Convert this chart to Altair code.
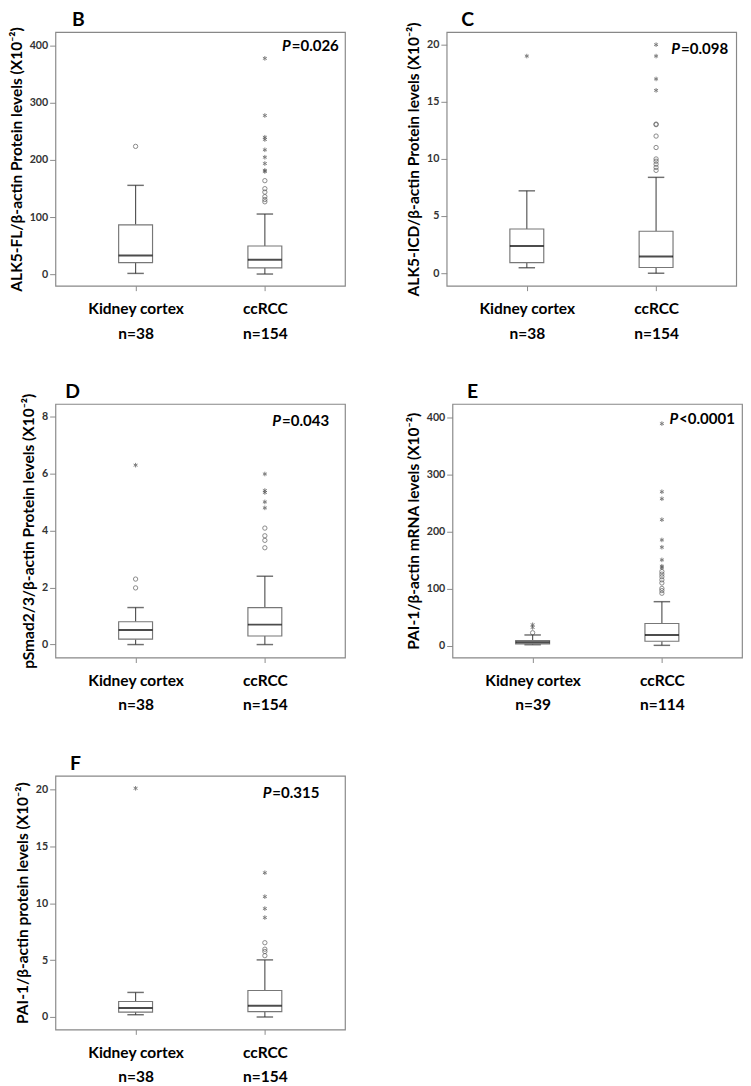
import altair as alt
import pandas as pd

groups = ["Kidney cortex", "ccRCC"]
FONT = "Lato"

# ---- Panel B : ALK5-FL ----
b_n = [38, 154]
b_low = [1.7, 0.6]
b_q1 = [20.5, 11.4]
b_med = [33.0, 25.7]
b_q3 = [86.7, 49.6]
b_high = [155.8, 105.6]
b_circ_kc = [224]
b_circ_cc = [127, 131, 136, 144, 150, 164]
b_ext_kc = []
b_ext_cc = [180, 182, 194, 205, 218, 236, 240, 278, 378]

# ---- Panel C : ALK5-ICD ----
c_n = [38, 154]
c_low = [0.48, 0.0]
c_q1 = [0.93, 0.5]
c_med = [2.38, 1.46]
c_q3 = [3.87, 3.67]
c_high = [7.21, 8.39]
c_circ_kc = []
c_circ_cc = [9.0, 9.26, 9.54, 9.8, 10.0, 11.0, 12.0, 13.0, 13.05]
c_ext_kc = [19.0]
c_ext_cc = [16.0, 17.0, 19.0, 20.0]

# ---- Panel D : pSmad2/3 ----
d_n = [38, 154]
d_low = [0.0, 0.0]
d_q1 = [0.19, 0.30]
d_med = [0.51, 0.70]
d_q3 = [0.80, 1.30]
d_high = [1.30, 2.40]
d_circ_kc = [1.99, 2.30]
d_circ_cc = [3.40, 3.66, 3.82, 4.09]
d_ext_kc = [6.30]
d_ext_cc = [4.80, 5.01, 5.34, 5.41, 5.99]

# ---- Panel E : PAI-1 mRNA ----
e_n = [39, 114]
e_low = [1.7, 0.6]
e_q1 = [3.3, 7.8]
e_med = [6.0, 18.9]
e_q3 = [8.8, 38.9]
e_high = [18.8, 77.2]
e_circ_kc = [22.7]
e_circ_cc = [92, 96.6, 100.5, 110, 115.5, 121, 125.5, 130]
e_ext_kc = [32, 36.7]
e_ext_cc = [136.6, 139.4, 150.5, 172.7, 185.5, 221, 257.7, 270, 389.5]

# ---- Panel F : PAI-1 protein ----
f_n = [38, 154]
f_low = [0.2, 0.0]
f_q1 = [0.43, 0.48]
f_med = [0.79, 0.99]
f_q3 = [1.36, 2.33]
f_high = [2.16, 5.02]
f_circ_kc = []
f_circ_cc = [5.39, 5.76, 5.96, 6.53]
f_ext_kc = [20.1]
f_ext_cc = [8.74, 9.53, 10.58, 12.68]

ASTERISK = "M0,-1L0,1M-0.87,-0.5L0.87,0.5M-0.87,0.5L0.87,-0.5"
W, H = 299, 262


def panel(letter, ytitle, n, low, q1, med, q3, high, circ_kc, circ_cc,
          ext_kc, ext_cc, ydomain, yvalues, p_op, p_val, p_split, p_y=17,
          letter_dx=17):
    stats = pd.DataFrame({"group": groups, "low": low, "q1": q1,
                          "med": med, "q3": q3, "high": high})
    circ = pd.DataFrame({"group": [groups[0]] * len(circ_kc) + [groups[1]] * len(circ_cc),
                         "v": list(circ_kc) + list(circ_cc)})
    ext = pd.DataFrame({"group": [groups[0]] * len(ext_kc) + [groups[1]] * len(ext_cc),
                        "v": list(ext_kc) + list(ext_cc)})
    label_expr = ("datum.value == '%s' ? ['%s', 'n=%d'] : ['%s', 'n=%d']"
                  % (groups[0], groups[0], n[0], groups[1], n[1]))
    xenc = alt.X("group:N",
                 scale=alt.Scale(type="point", domain=groups, padding=0.62),
                 axis=alt.Axis(title=None, labelExpr=label_expr, labelAngle=0,
                               labelFont=FONT, labelFontSize=16,
                               labelFontWeight="bold", labelColor="black",
                               labelLineHeight=25, labelPadding=11,
                               tickColor="#888", tickSize=5, domain=False,
                               grid=False))
    yscale = alt.Scale(domain=ydomain, nice=False, zero=False)
    yaxis = alt.Axis(values=yvalues, title=ytitle, titleFont=FONT,
                     titleFontSize=16, titleFontWeight="bold",
                     titleColor="black", titlePadding=5,
                     labelFont=FONT, labelFontSize=11, labelFontWeight="bold",
                     labelColor="#333", labelPadding=2, tickColor="#888",
                     tickSize=6, domain=False, grid=False)

    def Y(field):
        return alt.Y(field, type="quantitative", scale=yscale, axis=yaxis)

    base = alt.Chart(stats)
    whisk_lo = base.mark_rule(color="#555", strokeWidth=1.2).encode(
        x=xenc, y=Y("low"), y2="q1")
    whisk_hi = base.mark_rule(color="#555", strokeWidth=1.2).encode(
        x=xenc, y=Y("q3"), y2="high")
    cap_lo = base.mark_tick(color="#333", size=17, thickness=1.5).encode(
        x=xenc, y=Y("low"))
    cap_hi = base.mark_tick(color="#333", size=17, thickness=1.5).encode(
        x=xenc, y=Y("high"))
    box = base.mark_bar(size=35, fill="white", stroke="#777",
                        strokeWidth=1.2).encode(x=xenc, y=Y("q1"), y2="q3")
    median = base.mark_tick(color="black", size=35, thickness=2).encode(
        x=xenc, y=Y("med"))
    circles = alt.Chart(circ).mark_point(shape="circle", filled=False,
                                         size=20, color="#555",
                                         strokeWidth=1).encode(
        x=xenc, y=Y("v"))
    stars = alt.Chart(ext).mark_point(shape=ASTERISK, filled=False, size=22,
                                      color="#444", strokeWidth=1).encode(
        x=xenc, y=Y("v"))
    p_italic = alt.Chart(pd.DataFrame({"t": ["P"]})).mark_text(
        font=FONT, fontSize=15.5, fontWeight="bold", fontStyle="italic",
        align="right", baseline="middle", color="black").encode(
        text="t:N", x=alt.value(p_split), y=alt.value(p_y))
    p_rest = alt.Chart(pd.DataFrame({"t": [p_op + p_val]})).mark_text(
        font=FONT, fontSize=15.5, fontWeight="bold",
        align="left", baseline="middle", color="black").encode(
        text="t:N", x=alt.value(p_split + 1), y=alt.value(p_y))
    letter_mark = alt.Chart(pd.DataFrame({"t": [letter]})).mark_text(
        font=FONT, fontSize=20, fontWeight="bold", align="left",
        baseline="alphabetic", color="black").encode(
        text="t:N", x=alt.value(letter_dx), y=alt.value(-6))

    layers = [whisk_lo, whisk_hi, cap_lo, cap_hi, box, median, circles]
    if len(ext):
        layers.append(stars)
    layers += [p_italic, p_rest, letter_mark]
    return alt.layer(*layers).properties(width=W, height=H)


B = panel("B", "ALK5-FL/β-actin Protein levels (X10⁻²)", b_n, b_low, b_q1,
          b_med, b_q3, b_high, b_circ_kc, b_circ_cc, b_ext_kc, b_ext_cc,
          [-20, 424], [0, 100, 200, 300, 400], "=", "0.026", 243, 15, 17)
C = panel("C", "ALK5-ICD/β-actin Protein levels (X10⁻²)", c_n, c_low, c_q1,
          c_med, c_q3, c_high, c_circ_kc, c_circ_cc, c_ext_kc, c_ext_cc,
          [-1.1, 21.1], [0, 5, 10, 15, 20], "=", "0.098", 241, 18, 15)
D = panel("D", "pSmad2/3/β-actin Protein levels (X10⁻²)", d_n, d_low, d_q1,
          d_med, d_q3, d_high, d_circ_kc, d_circ_cc, d_ext_kc, d_ext_cc,
          [-0.46, 8.45], [0, 2, 4, 6, 8], "=", "0.043", 233, 18, 10)
E = panel("E", "PAI-1/β-actin mRNA  levels (X10⁻²)", e_n, e_low, e_q1,
          e_med, e_q3, e_high, e_circ_kc, e_circ_cc, e_ext_kc, e_ext_cc,
          [-21, 424], [0, 100, 200, 300, 400], "<", "0.0001", 233, 16, 15)
F = panel("F", "PAI-1/β-actin protein  levels (X10⁻²)", f_n, f_low, f_q1,
          f_med, f_q3, f_high, f_circ_kc, f_circ_cc, f_ext_kc, f_ext_cc,
          [-1.1, 21.2], [0, 5, 10, 15, 20], "=", "0.315", 223, 18, 15)

chart = alt.vconcat(
    alt.hconcat(B, C, spacing=61),
    alt.hconcat(D, E, spacing=61),
    F,
    spacing=41,
).properties(
    padding={"top": -16, "left": 0, "right": 0, "bottom": 0}
).configure_view(stroke="#888", strokeWidth=1.2)

chart.save("out.html", embed_options={"renderer": "svg", "actions": False})
